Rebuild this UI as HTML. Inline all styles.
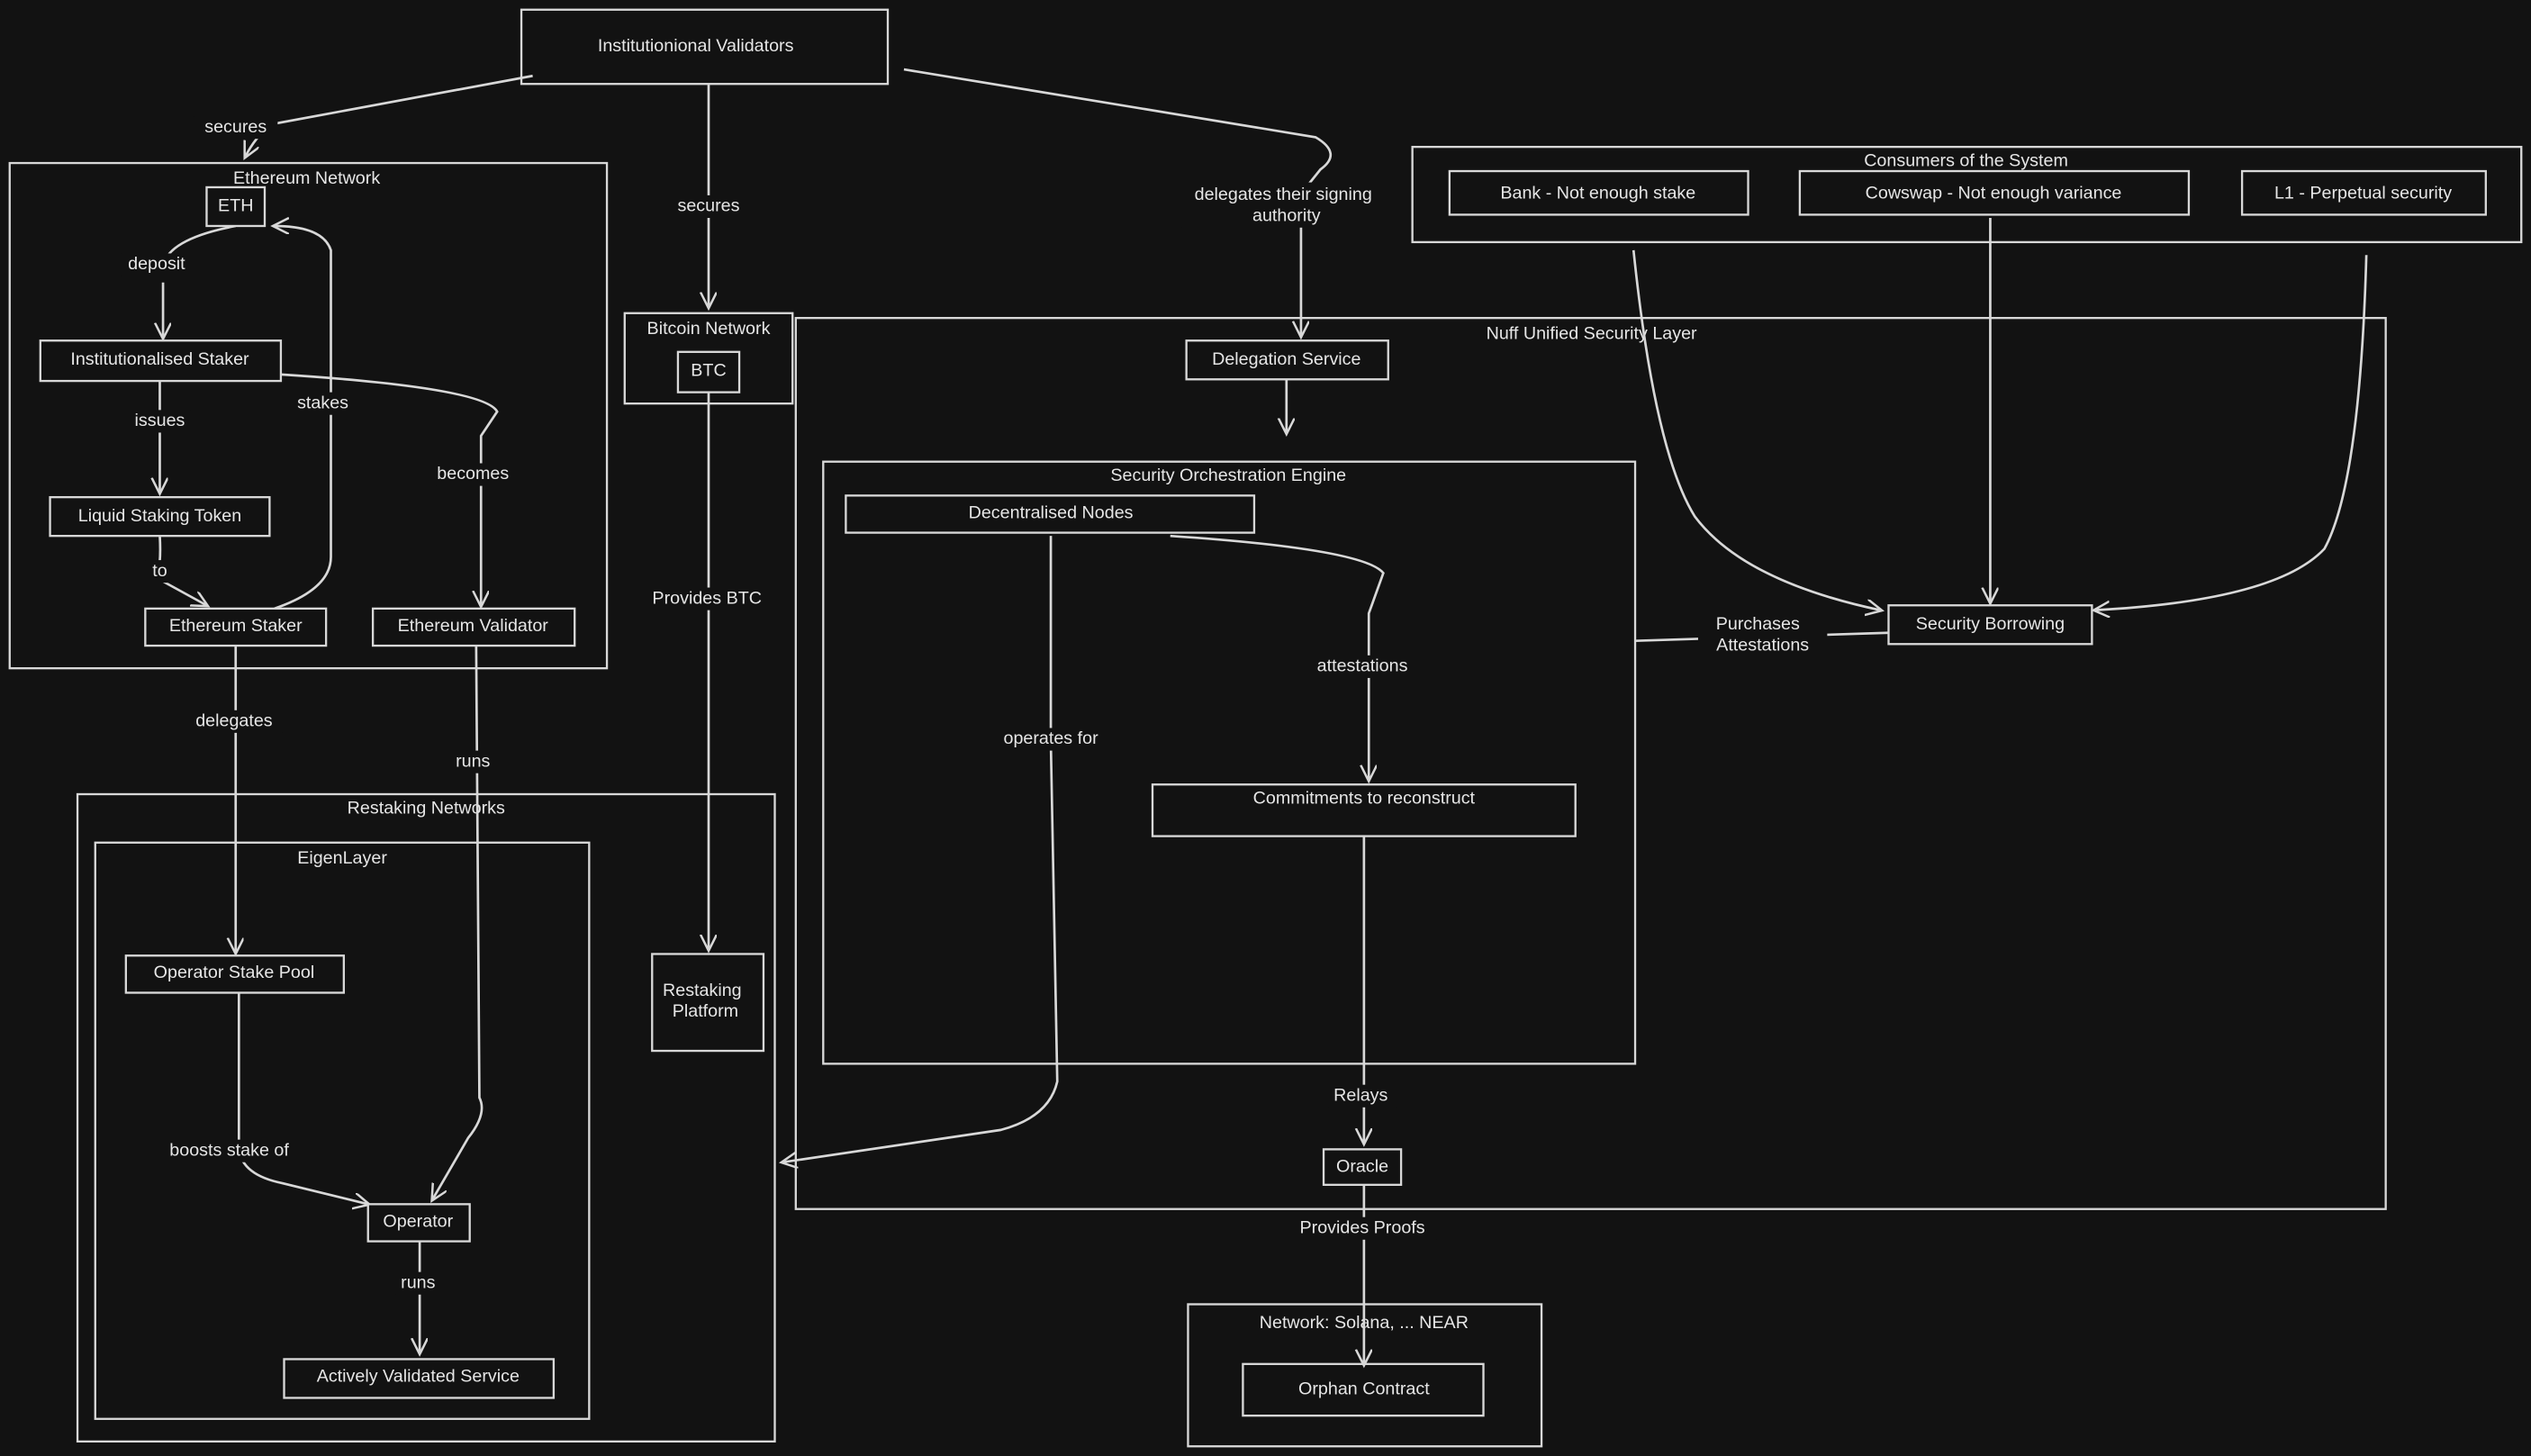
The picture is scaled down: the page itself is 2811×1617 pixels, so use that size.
<!DOCTYPE html>
<html><head><meta charset="utf-8"><style>
html,body{margin:0;padding:0;background:#121212;}
svg{display:block;}
text{font-family:"Liberation Sans",sans-serif;fill:#e6e6e6;font-size:11px;text-anchor:middle;dominant-baseline:middle;}
.b{fill:none;stroke:#d8d8d8;stroke-width:1.3;}
.l{fill:none;stroke:#d8d8d8;stroke-width:1.5;marker-end:url(#a);}
.n{fill:none;stroke:#d8d8d8;stroke-width:1.5;}
.bg{fill:#121212;stroke:none;}
</style></head><body>
<svg width="2811" height="1617" viewBox="0 0 1568 902" preserveAspectRatio="none" xmlns="http://www.w3.org/2000/svg">
<defs><marker id="a" markerWidth="12" markerHeight="12" refX="9" refY="5" orient="auto" markerUnits="userSpaceOnUse"><path d="M0,0 L10,5 L0,10" fill="none" stroke="#d8d8d8" stroke-width="1.4"/></marker></defs>
<rect width="1568" height="902" fill="#121212"/>

<rect class="b" x="323" y="6" width="227" height="46"/><text x="431" y="29">Institutionional Validators</text>
<rect class="b" x="6" y="101" width="370" height="313"/><text x="190" y="111">Ethereum Network</text>
<rect class="b" x="387" y="194" width="104" height="56"/><text x="439" y="204">Bitcoin Network</text>
<rect class="b" x="875" y="91" width="687" height="59"/><text x="1218" y="100" font-size="12">Consumers of the System</text>
<rect class="b" x="493" y="197" width="985" height="552"/><text x="986" y="207">Nuff Unified Security Layer</text>
<rect class="b" x="510" y="286" width="503" height="373"/><text x="761" y="295">Security Orchestration Engine</text>
<rect class="b" x="48" y="492" width="432" height="401"/><text x="264" y="501">Restaking Networks</text>
<rect class="b" x="59" y="522" width="306" height="357"/><text x="212" y="532">EigenLayer</text>
<rect class="b" x="736" y="808" width="219" height="88"/><text x="845" y="820" font-size="14">Network: Solana, ... NEAR</text>

<path class="l" d="M330,47 L168,77 Q158,85 152,97"/>
<path class="n" d="M146,140 Q104,148 101,165"/><path class="l" d="M101,175 L101,209"/>
<path class="l" d="M99,236 L99,305"/>
<path class="l" d="M99,332 Q100,350 97,358 L128,375"/>
<path class="l" d="M170,377 Q205,365 205,345 L205,155 Q200,140 170,140"/>
<path class="l" d="M174,232 Q300,240 308,255 L298,270 L298,375"/>
<path class="l" d="M439,52 L439,190"/>
<path class="l" d="M439,243 L439,588"/>
<path class="l" d="M560,43 L815,85 Q832,95 818,105 L806,120 L806,208"/>
<path class="l" d="M797,235 L797,268"/>
<path class="l" d="M725,332 Q845,340 857,355 L848,380 L848,483"/>
<path class="l" d="M651,332 L651,460 L655,670 Q650,692 620,700 L485,720"/>
<path class="l" d="M845,518 L845,708"/>
<path class="l" d="M845,734 L845,845"/>
<path class="n" d="M1013,397 L1170,392"/>
<path class="l" d="M1012,155 Q1025,280 1050,320 Q1080,360 1165,378"/>
<path class="l" d="M1233,135 L1233,373"/>
<path class="l" d="M1466,158 Q1462,300 1440,340 Q1410,372 1298,378"/>
<path class="l" d="M146,400 L146,590"/>
<path class="l" d="M295,400 L297,680 Q302,690 290,705 L268,743"/>
<path class="l" d="M148,615 L148,712 Q150,728 175,733 L228,746"/>
<path class="l" d="M260,769 L260,838"/>

<rect class="bg" x="120" y="72" width="52" height="14"/><text x="146" y="79">secures</text>
<rect class="bg" x="75" y="157" width="44" height="14"/><text x="97" y="164">deposit</text>
<rect class="bg" x="80" y="254" width="38" height="14"/><text x="99" y="261">issues</text>
<rect class="bg" x="90" y="347" width="18" height="14"/><text x="99" y="354">to</text>
<rect class="bg" x="180" y="243" width="40" height="14"/><text x="200" y="250">stakes</text>
<rect class="bg" x="270" y="287" width="46" height="14"/><text x="293" y="294">becomes</text>
<rect class="bg" x="414" y="121" width="50" height="14"/><text x="439" y="128">secures</text>
<rect class="bg" x="400" y="364" width="76" height="14"/><text x="438" y="371">Provides BTC</text>
<rect class="bg" x="732" y="113" width="126" height="28"/><text x="795" y="121">delegates their signing</text><text x="797" y="134">authority</text>
<rect class="bg" x="806" y="406" width="76" height="14"/><text x="844" y="413">attestations</text>
<rect class="bg" x="614" y="451" width="74" height="14"/><text x="651" y="458">operates for</text>
<rect class="bg" x="823" y="672" width="42" height="14"/><text x="843" y="679">Relays</text>
<rect class="bg" x="798" y="754" width="92" height="14"/><text x="844" y="761">Provides Proofs</text>
<rect class="bg" x="1052" y="380" width="80" height="28"/><text x="1089" y="387">Purchases</text><text x="1092" y="400">Attestations</text>
<rect class="bg" x="117" y="440" width="58" height="14"/><text x="145" y="447">delegates</text>
<rect class="bg" x="280" y="465" width="28" height="14"/><text x="293" y="472">runs</text>
<rect class="bg" x="94" y="706" width="96" height="14"/><text x="142" y="713">boosts stake of</text>
<rect class="bg" x="245" y="788" width="28" height="14"/><text x="259" y="795">runs</text>

<rect class="b" style="fill:#121212" x="128" y="116" width="36" height="24"/><text x="146" y="128">ETH</text>
<rect class="b" style="fill:#121212" x="25" y="211" width="149" height="25"/><text x="99" y="223">Institutionalised Staker</text>
<rect class="b" style="fill:#121212" x="31" y="308" width="136" height="24"/><text x="99" y="320">Liquid Staking Token</text>
<rect class="b" style="fill:#121212" x="90" y="377" width="112" height="23"/><text x="146" y="388">Ethereum Staker</text>
<rect class="b" style="fill:#121212" x="231" y="377" width="125" height="23"/><text x="293" y="388">Ethereum Validator</text>
<rect class="b" style="fill:#121212" x="420" y="218" width="38" height="25"/><text x="439" y="230">BTC</text>
<rect class="b" x="898" y="106" width="185" height="27"/><text x="990" y="120" font-size="13">Bank - Not enough stake</text>
<rect class="b" x="1115" y="106" width="241" height="27"/><text x="1235" y="120" font-size="13">Cowswap - Not enough variance</text>
<rect class="b" x="1389" y="106" width="151" height="27"/><text x="1464" y="120" font-size="13">L1 - Perpetual security</text>
<rect class="b" style="fill:#121212" x="735" y="211" width="125" height="24"/><text x="797" y="223">Delegation Service</text>
<rect class="b" style="fill:#121212" x="524" y="307" width="253" height="23"/><text x="651" y="318">Decentralised Nodes</text>
<rect class="b" style="fill:#121212" x="714" y="486" width="262" height="32"/><text x="845" y="495">Commitments to reconstruct</text>
<rect class="b" style="fill:#121212" x="820" y="712" width="48" height="22"/><text x="844" y="723">Oracle</text>
<rect class="b" x="770" y="845" width="149" height="32"/><text x="845" y="861" font-size="14">Orphan Contract</text>
<rect class="b" style="fill:#121212" x="1170" y="375" width="126" height="24"/><text x="1233" y="387">Security Borrowing</text>
<rect class="b" style="fill:#121212" x="78" y="592" width="135" height="23"/><text x="145" y="603">Operator Stake Pool</text>
<rect class="b" x="404" y="591" width="69" height="60"/><text x="435" y="614">Restaking</text><text x="437" y="627">Platform</text>
<rect class="b" style="fill:#121212" x="228" y="746" width="63" height="23"/><text x="259" y="757">Operator</text>
<rect class="b" style="fill:#121212" x="176" y="842" width="167" height="24"/><text x="259" y="853">Actively Validated Service</text>
</svg>
</body></html>
